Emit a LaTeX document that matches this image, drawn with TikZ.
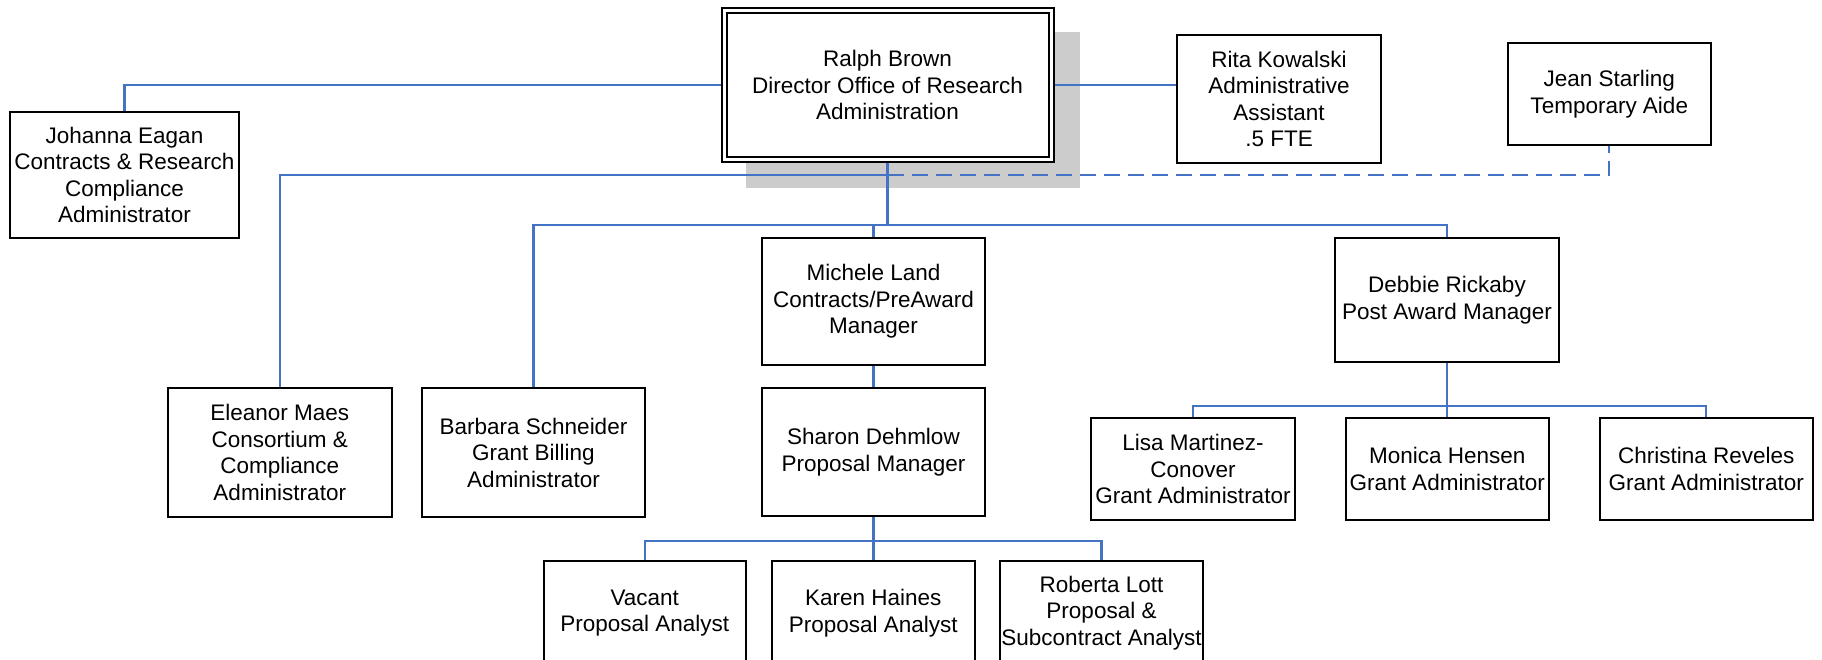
\documentclass[tikz,border=0pt]{standalone}
\usepackage{fontspec}
\setmainfont{Liberation Sans}
\usetikzlibrary{backgrounds}
\definecolor{connblue}{RGB}{68,114,196}
\definecolor{shadowgray}{RGB}{204,204,204}
\begin{document}
\begin{tikzpicture}[x=1pt,y=-1pt,
  box/.style={draw=black, line width=2pt, fill=white, align=center, inner sep=0pt,
    font=\fontsize{22.5}{26.5}\selectfont},
  conn/.style={draw=connblue, line width=2.2pt},
  dashconn/.style={conn, dash pattern=on 16pt off 8pt}
]
\useasboundingbox (0,0) rectangle (1822,659);
\clip (0,0) rectangle (1822,659);

% nodes
\node[box, double, double distance=3pt, minimum width=327, minimum height=149] (ralph) at (887.5,85)
  {Ralph Brown\\Director Office of Research\\Administration};
\node[box, minimum width=229, minimum height=126] (johanna) at (124.5,175)
  {Johanna Eagan\\Contracts \& Research\\Compliance\\Administrator};
\node[box, minimum width=204, minimum height=128] (rita) at (1279,99)
  {Rita Kowalski\\Administrative\\Assistant\\.5 FTE};
\node[box, minimum width=203.5, minimum height=102] (jean) at (1609.25,94)
  {Jean Starling\\Temporary Aide};
\node[box, minimum width=223.5, minimum height=129] (eleanor) at (279.75,452.5)
  {Eleanor Maes\\Consortium \&\\Compliance\\Administrator};
\node[box, minimum width=223, minimum height=129] (barbara) at (533.5,452.5)
  {Barbara Schneider\\Grant Billing\\Administrator};
\node[box, minimum width=223, minimum height=127] (michele) at (873.5,301.5)
  {Michele Land\\Contracts/PreAward\\Manager};
\node[box, minimum width=223, minimum height=128] (sharon) at (873.5,452)
  {Sharon Dehmlow\\Proposal Manager};
\node[box, minimum width=224, minimum height=124] (debbie) at (1447,300)
  {Debbie Rickaby\\Post Award Manager};
\node[box, minimum width=204, minimum height=102] (lisa) at (1193,469)
  {Lisa Martinez-\\Conover\\Grant Administrator};
\node[box, minimum width=203.5, minimum height=102] (monica) at (1447.25,469)
  {Monica Hensen\\Grant Administrator};
\node[box, minimum width=213.5, minimum height=102] (christina) at (1706.25,469)
  {Christina Reveles\\Grant Administrator};
\node[box, minimum width=202.5, minimum height=104, anchor=north] (vacant) at (644.75,560)
  {Vacant\\Proposal Analyst};
\node[box, minimum width=203.5, minimum height=104, anchor=north] (karen) at (873.25,560)
  {Karen Haines\\Proposal Analyst};
\node[box, minimum width=203, minimum height=104, anchor=north] (roberta) at (1101.5,560)
  {Roberta Lott\\Proposal \&\\Subcontract Analyst};

\coordinate (busA) at (0,175);
\coordinate (busB) at (0,225);
\coordinate (busC) at (0,406);
\coordinate (busD) at (0,541);

\begin{pgfonlayer}{background}
  \fill[shadowgray] (745.5,32) rectangle (1080,188);
  % connectors
  \draw[conn] (ralph.west) -| (johanna.north);
  \draw[conn] (ralph.east) -- (rita.west |- ralph.east);
  \draw[conn, line width=2.8pt] (ralph.south) -- (ralph.south |- busB);
  \draw[conn] (ralph.south |- busA) -| (eleanor.north);
  \draw[dashconn] (ralph.south |- busA) -| (jean.south);
  \draw[conn] (barbara.north) |- (busB -| debbie.north) -- (debbie.north);
  \draw[conn] (michele.north) -- (michele.north |- busB);
  \draw[conn] (michele.south) -- (sharon.north);
  \draw[conn, line width=2.8pt] (debbie.south) -- (debbie.south |- monica.north);
  \draw[conn] (lisa.north) |- (busC -| christina.north) -- (christina.north);
  \draw[conn, line width=2.8pt] (sharon.south) -- (sharon.south |- karen.north);
  \draw[conn] (vacant.north) |- (busD -| roberta.north) -- (roberta.north);
\end{pgfonlayer}
\end{tikzpicture}
\end{document}
